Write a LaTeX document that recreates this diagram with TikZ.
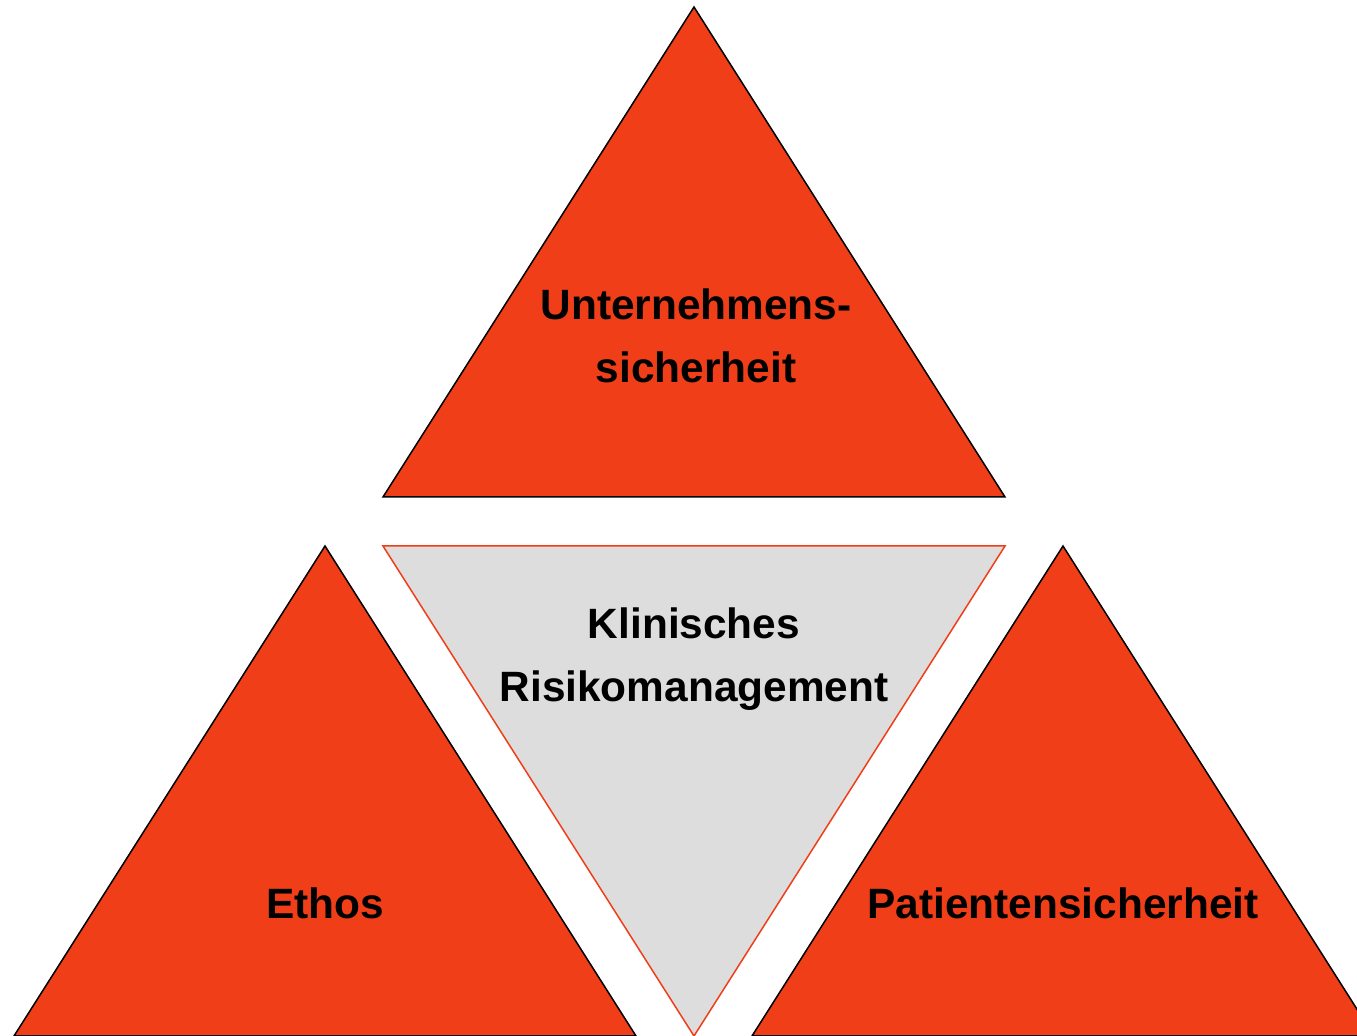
\documentclass[tikz,border=0pt]{standalone}
\usepackage{fontspec}
\setmainfont{Liberation Sans}
\usepackage{tikz}
\usetikzlibrary{positioning}
\definecolor{rmRed}{RGB}{239,62,24}
\definecolor{rmGray}{RGB}{221,221,221}
\tikzset{
    base/.style={font=\bfseries\fontsize{21.2}{31.5}\selectfont, align=center, inner sep=0pt},
    pillar/.style={draw=black, line width=0.75pt, fill=rmRed, line join=miter},
    core/.style={draw=rmRed, line width=0.75pt, fill=rmGray, line join=miter},
    label/.style={base, anchor=base, text=black}
}
\begin{document}
\begin{tikzpicture}[x=0.5pt, y=-0.5pt]
  \useasboundingbox (0,0) rectangle (1357,1036);
  \clip (0,0) rectangle (1357,1036);

  % Top triangle
  \coordinate (topA) at (694,7);
  \draw[pillar] (topA) -- (383,497) -- (1005,497) -- cycle;

  % Centre triangle, upside down
  \coordinate (midA) at (694,1036);
  \draw[core] (383,546) -- (1005,546) -- (midA) -- cycle;

  % Bottom left and right triangles
  \coordinate (leftA) at (325,546);
  \coordinate (rightA) at (1063,546);
  \draw[pillar] (leftA) -- (14,1036) -- (636,1036) -- cycle;
  \draw[pillar] (rightA) -- (752,1036) -- (1374,1036) -- cycle;

  % Labels (base = baseline of the last line)
  \node[label] (unternehmen) at (696,383) {Unternehmens-\\sicherheit};
  \node[label] (klinik) at (694,702) {Klinisches\\Risikomanagement};
  \node[label] (ethos) at (325,919) {Ethos};
  \node[label] (patient) at (1063,919) {Patientensicherheit};
\end{tikzpicture}
\end{document}
